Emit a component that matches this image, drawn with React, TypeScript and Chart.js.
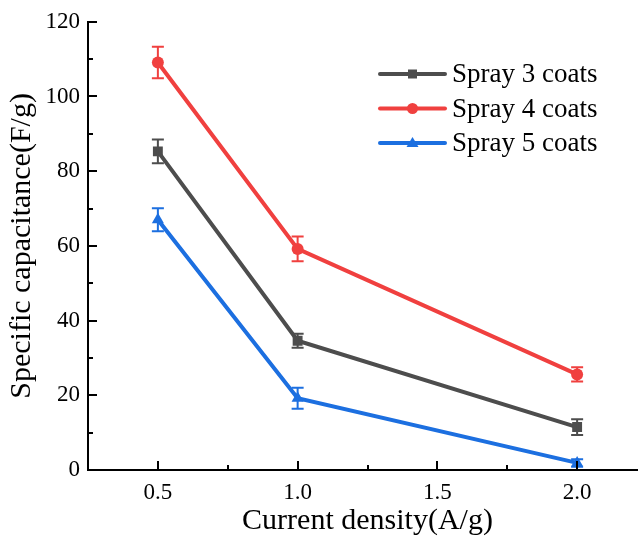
import React, { useEffect, useRef } from "react";
import { Chart, registerables } from "chart.js";

Chart.register(...registerables);

const xValues = [0.5, 1.0, 2.0];
const seriesLabels = ["Spray 3 coats", "Spray 4 coats", "Spray 5 coats"];
const spray3 = [85.3, 34.6, 11.5];
const spray3Err = [3.2, 1.9, 2.1];
const spray4 = [109.1, 59.2, 25.6];
const spray4Err = [4.2, 3.3, 1.9];
const spray5 = [67.0, 19.2, 1.9];
const spray5Err = [3.1, 2.8, 1.0];
const colors = ["#4d4d4d", "#f0403f", "#1c6fe0"];
const pointStyles = ["rect", "circle", "triangle"];
const xTickLabels = [0.5, 1.0, 1.5, 2.0];
const xMinorTicks = [0.75, 1.25, 1.75];
const yTickLabels = [0, 20, 40, 60, 80, 100, 120];
const yMinorTicks = [10, 30, 50, 70, 90, 110];

const FONT = "'Liberation Serif', 'Times New Roman', serif";

export default function App() {
  const ref = useRef<HTMLCanvasElement>(null);
  useEffect(() => {
    document.body.style.margin = "0";
    document.body.style.overflow = "hidden";
    const series = [spray3, spray4, spray5];
    const errs = [spray3Err, spray4Err, spray5Err];
    const datasets = series.map((s, i) => ({
      label: seriesLabels[i],
      data: s.map((v, j) => ({ x: xValues[j], y: v })),
      borderColor: colors[i],
      backgroundColor: colors[i],
      borderWidth: 4,
      pointStyle: pointStyles[i] as any,
      pointRadius: i === 1 ? 6 : 7,
      pointBorderWidth: 0,
      tension: 0,
    }));

    const plugin = {
      id: "extras",
      afterDatasetsDraw(chart: any) {
        const ctx = chart.ctx;
        const xs = chart.scales.x;
        const ys = chart.scales.y;
        ctx.save();
        series.forEach((s, i) => {
          ctx.strokeStyle = colors[i];
          ctx.lineWidth = 2;
          s.forEach((v, j) => {
            const px = xs.getPixelForValue(xValues[j]);
            const top = ys.getPixelForValue(v + errs[i][j]);
            const bot = ys.getPixelForValue(v - errs[i][j]);
            ctx.beginPath();
            ctx.moveTo(px, top);
            ctx.lineTo(px, bot);
            ctx.moveTo(px - 6, top);
            ctx.lineTo(px + 6, top);
            ctx.moveTo(px - 6, bot);
            ctx.lineTo(px + 6, bot);
            ctx.stroke();
          });
        });
        ctx.restore();
      },
      afterDraw(chart: any) {
        const ctx = chart.ctx;
        const xs = chart.scales.x;
        const ys = chart.scales.y;
        const area = chart.chartArea;
        ctx.save();
        ctx.strokeStyle = "#000";
        ctx.lineWidth = 2;
        const hTick = (v: number, len: number) => {
          const py = Math.round(ys.getPixelForValue(v));
          ctx.beginPath();
          ctx.moveTo(area.left, py);
          ctx.lineTo(area.left + len, py);
          ctx.stroke();
        };
        const vTick = (v: number, len: number) => {
          const px = Math.round(xs.getPixelForValue(v));
          ctx.beginPath();
          ctx.moveTo(px, area.bottom);
          ctx.lineTo(px, area.bottom - len);
          ctx.stroke();
        };
        yTickLabels.forEach((v) => hTick(v, 9));
        yMinorTicks.forEach((v) => hTick(v, 5));
        xTickLabels.forEach((v) => vTick(v, 9));
        xMinorTicks.forEach((v) => vTick(v, 5));
        const lx0 = 380, lx1 = 445, ly0 = 74, step = 34.5;
        seriesLabels.forEach((lab, i) => {
          const y = ly0 + i * step;
          ctx.strokeStyle = colors[i];
          ctx.fillStyle = colors[i];
          ctx.lineWidth = 4;
          ctx.lineCap = "round";
          ctx.beginPath();
          ctx.moveTo(lx0, y);
          ctx.lineTo(lx1, y);
          ctx.stroke();
          const mx = (lx0 + lx1) / 2;
          ctx.beginPath();
          if (pointStyles[i] === "rect") {
            ctx.rect(mx - 4.5, y - 4.5, 9, 9);
          } else if (pointStyles[i] === "circle") {
            ctx.arc(mx, y, 5.5, 0, Math.PI * 2);
          } else {
            ctx.moveTo(mx, y - 6);
            ctx.lineTo(mx + 6, y + 4);
            ctx.lineTo(mx - 6, y + 4);
            ctx.closePath();
          }
          ctx.fill();
          ctx.fillStyle = "#000";
          ctx.font = `27px ${FONT}`;
          ctx.textBaseline = "middle";
          ctx.textAlign = "left";
          ctx.fillText(lab, 452, y + 1);
        });
        ctx.restore();
      },
    };

    const chart = new Chart(ref.current!, {
      type: "line",
      data: { datasets },
      options: {
        animation: false,
        responsive: false,
        layout: { padding: { top: 20, right: 13, left: 0, bottom: 0 } },
        plugins: { legend: { display: false }, tooltip: { enabled: false } },
        scales: {
          x: {
            type: "linear",
            min: 0.25,
            max: 2.25,
            afterBuildTicks: (scale: any) => {
              scale.ticks = xTickLabels.map((v) => ({ value: v }));
            },
            afterFit: (scale: any) => {
              scale.height = 72;
            },
            ticks: {
              callback: (v: any) => Number(v).toFixed(1),
              color: "#000",
              font: { family: FONT, size: 23 },
              padding: 9,
              maxRotation: 0,
            },
            grid: { display: false, drawTicks: false },
            border: { color: "#000", width: 2 },
            title: {
              display: true,
              text: "Current density(A/g)",
              color: "#000",
              font: { family: FONT, size: 30 },
              padding: { top: 0, bottom: 3 },
            },
          },
          y: {
            type: "linear",
            min: 0,
            max: 120,
            afterBuildTicks: (scale: any) => {
              scale.ticks = yTickLabels.map((v) => ({ value: v }));
            },
            afterFit: (scale: any) => {
              scale.width = 88;
            },
            ticks: {
              color: "#000",
              font: { family: FONT, size: 23 },
              padding: 8,
            },
            grid: { display: false, drawTicks: false },
            border: { color: "#000", width: 2 },
            title: {
              display: true,
              text: "Specific capacitance(F/g)",
              color: "#000",
              font: { family: FONT, size: 30 },
              padding: { top: 4, bottom: 0 },
            },
          },
        },
      },
      plugins: [plugin],
    });
    return () => chart.destroy();
  }, []);
  return (
    <div style={{ width: 638, height: 542, overflow: "hidden", background: "#fff" }}>
      <canvas ref={ref} width={660} height={542} style={{ display: "block" }} />
    </div>
  );
}
